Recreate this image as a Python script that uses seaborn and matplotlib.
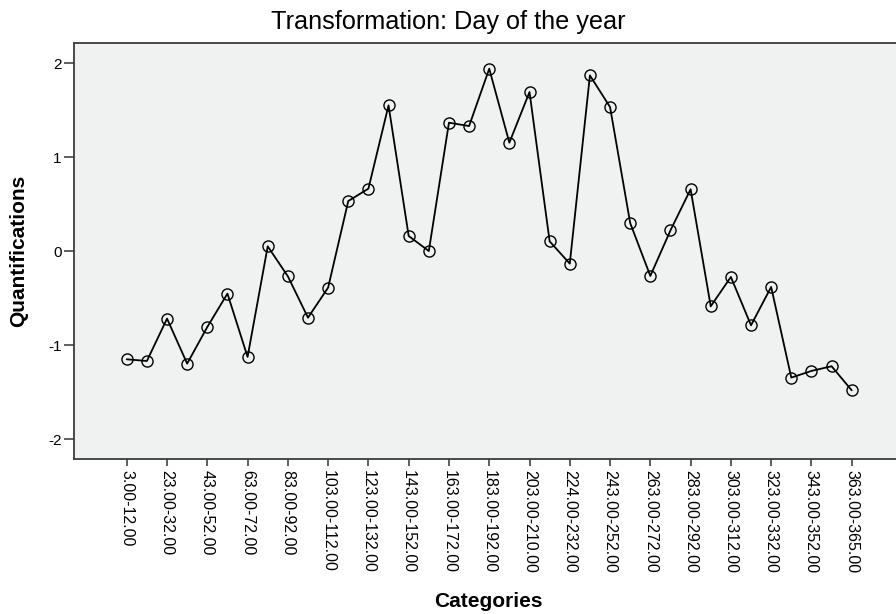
import numpy as np
import pandas as pd
import matplotlib
matplotlib.use("Agg")
import matplotlib.pyplot as plt
import seaborn as sns

categories = [
    "3.00-12.00", "13.00-22.00", "23.00-32.00", "33.00-42.00", "43.00-52.00",
    "53.00-62.00", "63.00-72.00", "73.00-82.00", "83.00-92.00", "93.00-102.00",
    "103.00-112.00", "113.00-122.00", "123.00-132.00", "133.00-142.00",
    "143.00-152.00", "153.00-162.00", "163.00-172.00", "173.00-182.00",
    "183.00-192.00", "193.00-202.00", "203.00-210.00", "211.00-223.00",
    "224.00-232.00", "233.00-242.00", "243.00-252.00", "253.00-262.00",
    "263.00-272.00", "273.00-282.00", "283.00-292.00", "293.00-302.00",
    "303.00-312.00", "313.00-322.00", "323.00-332.00", "333.00-342.00",
    "343.00-352.00", "353.00-362.00", "363.00-365.00",
]
quantifications = [
    -1.149, -1.167, -0.716, -1.195, -0.805, -0.450, -1.124, 0.053, -0.266,
    -0.706, -0.386, 0.535, 0.667, 1.553, 0.163, 0.003, 1.369, 1.333, 1.943,
    1.156, 1.695, 0.106, -0.131, 1.872, 1.535, 0.301, -0.262, 0.223, 0.660,
    -0.585, -0.273, -0.787, -0.379, -1.344, -1.273, -1.223, -1.479,
]
y_ticks = [-2, -1, 0, 1, 2]
title = "Transformation: Day of the year"
x_label = "Categories"
y_label = "Quantifications"

df = pd.DataFrame({
    "position": np.arange(len(categories)),
    "category": categories,
    "value": quantifications,
})

sns.set_theme(style="white")
plt.rcParams["font.family"] = ["Liberation Sans", "DejaVu Sans"]
plt.rcParams["text.color"] = "black"
plt.rcParams["xtick.color"] = "black"
plt.rcParams["ytick.color"] = "black"

W, H = 896, 614
fig = plt.figure(figsize=(W / 100, H / 100), dpi=100)
left_px, top_px, bottom_px = 74, 42.7, 459
ax = fig.add_axes([left_px / W, 1 - bottom_px / H, (W - left_px) / W,
                   (bottom_px - top_px) / H])
ax.set_facecolor("#f0f1f1")

sns.lineplot(data=df, x="position", y="value", ax=ax, color="black",
             linewidth=1.3, marker="o", markersize=8,
             markerfacecolor="none", markeredgecolor="black",
             markeredgewidth=1.0, sort=False)

ax.set_xlim(-2.62, 38.2)
ax.set_ylim(-2.21, 2.22)
ax.set_xticks(df["position"][::2])
ax.set_xticklabels(df["category"][::2], rotation=-90, fontsize=11.5,
                   color="black")
ax.set_yticks(y_ticks)
ax.set_yticklabels([str(t) for t in y_ticks], fontsize=11, color="black")
ax.tick_params(axis="x", direction="out", length=5, width=1.1,
               color="#333333", pad=3, bottom=True)
ax.tick_params(axis="y", direction="out", length=7, width=1.1,
               color="#333333", pad=2, left=True)
for side in ["left", "bottom", "top"]:
    ax.spines[side].set_visible(True)
    ax.spines[side].set_color("#3c3c3c")
    ax.spines[side].set_linewidth(1.3)
ax.spines["right"].set_visible(False)
ax.set_xlabel("")
ax.set_ylabel("")
ax.grid(False)

fig.text(0.5, 1 - 29.3 / H, title, ha="center", va="baseline", fontsize=18.2,
         color="black")
fig.text(488 / W, 1 - 607 / H, x_label, ha="center", va="baseline",
         fontsize=15, fontweight="bold", color="black")
fig.text(18.5 / W, 1 - 250.5 / H, y_label, ha="center", va="center",
         rotation=90, fontsize=15, fontweight="bold", color="black")

fig.savefig("out.png", dpi=100)
